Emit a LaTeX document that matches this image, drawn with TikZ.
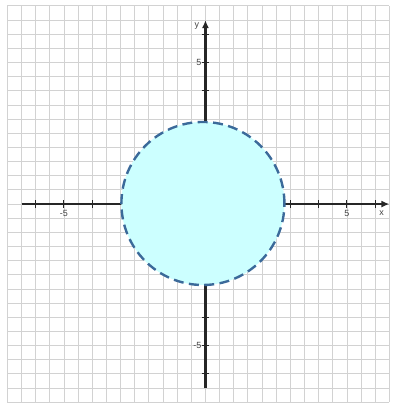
\documentclass[tikz,border=0pt]{standalone}
\usepackage{fontspec}
\setmainfont{Liberation Sans}
\usetikzlibrary{arrows.meta}
\definecolor{gridc}{HTML}{D2D2D2}
\definecolor{fillc}{HTML}{CCFFFF}
\definecolor{dashc}{HTML}{3B6A9A}
\definecolor{labc}{HTML}{444444}
\tikzset{
  gridline/.style={draw=gridc, line width=0.9pt},
  axisline/.style={draw=black!85, line width=2.2pt},
  tickline/.style={draw=black!85, line width=1pt},
  ticklab/.style={font=\fontsize{9}{10}\selectfont, text=labc, inner sep=1pt},
  region/.style={fill=fillc, draw=dashc, line width=2.4pt, dash pattern=on 10pt off 5.5pt}
}
\begin{document}
\begin{tikzpicture}[x=1cm,y=1cm]
\useasboundingbox (-7.26,-7.03) rectangle (6.70,7.21);
\fill[white] (-7.26,-7.03) rectangle (6.70,7.21);
% grid
\foreach \i in {-7,-6.5,...,6.6} \draw[gridline] (\i,-7) -- (\i,7);
\foreach \j in {-7,-6.5,...,7.1} \draw[gridline] (-7,\j) -- (6.5,\j);
% axes
\coordinate (xl) at (-6.5,0);
\coordinate (xr) at (6.5,0);
\coordinate (yb) at (0,-6.5);
\coordinate (yt) at (0,6.5);
\draw[axisline, -{Latex[length=8pt,width=7pt]}] (xl) -- (xr);
\draw[axisline, -{Latex[length=8pt,width=7pt]}] (yb) -- (yt);
\foreach \t in {-6,-5,-4,3,4,5,6} \draw[tickline] (\t,-0.14) -- (\t,0.14);
\foreach \t in {-6,-5,-4,4,5,6} \draw[tickline] (-0.14,\t) -- (0.14,\t);
% region
\draw[region] (-0.09,0.02) circle (2.88);
% labels
\node[ticklab] (lxm5) at (-5,-0.32) {-5};
\node[ticklab] (lx5) at (5,-0.32) {5};
\node[ticklab] (lx) at (6.22,-0.32) {x};
\node[ticklab, anchor=east] (ly5) at (-0.1,5) {5};
\node[ticklab, anchor=east] (lym5) at (-0.1,-5) {-5};
\node[ticklab] (ly) at (-0.3,6.28) {y};
\end{tikzpicture}
\end{document}
